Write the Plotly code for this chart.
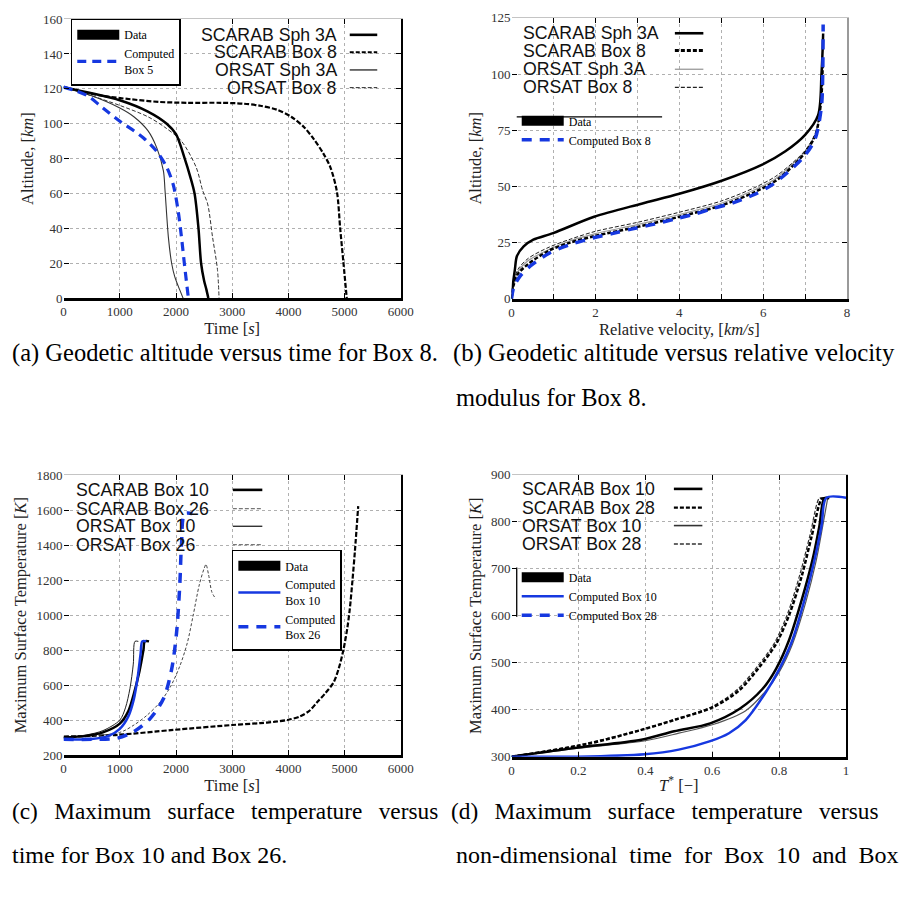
import plotly.graph_objects as go

# ---------------------------------------------------------------- data
# (a) altitude [km] versus time [s], Box 8 comparison
a_t_scarab_sph3a = [0, 500, 1000, 1500, 1835, 2000, 2155, 2250, 2330, 2400, 2446, 2500, 2540, 2575]
a_h_scarab_sph3a = [121, 117.5, 113.5, 107, 100, 94, 80, 70, 60, 40, 20, 10, 5, 0]
a_t_scarab_box8 = [0, 300, 700, 1200, 1700, 2200, 2800, 3200, 3500, 3800, 4050, 4280, 4455, 4620, 4747, 4863, 4921, 4980, 5038]
a_h_scarab_box8 = [121, 118.5, 116, 114, 112.5, 112, 112, 111.5, 110.3, 108, 104, 98, 91, 83, 75, 61, 40, 20, 0]
a_t_orsat_sph3a = [0, 500, 1000, 1250, 1500, 1660, 1776, 1805, 1864, 1922, 1980, 2038, 2126]
a_h_orsat_sph3a = [121, 116, 109, 104, 96, 86, 73, 61.6, 35, 20, 12, 7, 0]
a_t_orsat_box8 = [0, 500, 1000, 1500, 1800, 2097, 2359, 2475, 2563, 2650, 2737, 2766]
a_h_orsat_box8 = [121, 116, 110.5, 104, 98, 90, 75, 61.6, 54, 35, 16.5, 0]
a_t_computed = [0, 200, 437, 700, 1019, 1250, 1427, 1660, 1835, 1951, 2038, 2097, 2155, 2220]
a_h_computed = [121, 119, 115.8, 109, 101, 96, 91.7, 84, 75, 65, 50, 35, 18, 0]

# (b) altitude [km] versus relative velocity [km/s], Box 8 comparison
b_v_scarab_sph3a = [0, 0.03, 0.08, 0.13, 0.29, 0.52, 0.99, 1.97, 3.1, 4.0, 5.01, 5.99, 6.53, 7.0, 7.31, 7.39, 7.42, 7.43]
b_h_scarab_sph3a = [0, 6, 13, 19, 23.3, 26.3, 29.2, 36.5, 42.3, 46.7, 52.5, 59.8, 65.6, 72.9, 81.7, 100, 112, 118]
b_v_box8 = [0, 0.05, 0.15, 0.4, 0.9, 1.4, 2, 3, 4, 5, 5.8, 6.3, 6.7, 7.0, 7.25, 7.38, 7.42]
b_h_scarab_box8 = [0, 6, 11, 15.5, 21.5, 25, 28, 32, 36.5, 41.5, 47.5, 52.5, 59, 65, 73, 88, 105]
b_h_orsat_sph3a = [0, 6.5, 12, 17, 22, 25.8, 29, 33, 37.5, 42.5, 48.5, 53.5, 60, 65.5, 73.5, 88, 105]
b_h_orsat_box8 = [0, 7, 13, 18, 23, 26.5, 30, 34, 38.5, 43.5, 49.5, 54.5, 60.5, 66, 74, 88, 105]
b_v_computed = [0, 0.05, 0.2, 0.45, 0.91, 1.38, 1.93, 2.4, 2.86, 3.41, 3.88, 4.35, 4.82, 5.28, 5.79, 6.22, 6.69, 7.0, 7.24, 7.39, 7.42, 7.43]
b_h_computed = [0, 5, 10, 14.6, 20.4, 24, 27, 29, 31, 33.2, 35.4, 37.6, 40.3, 42.7, 46.4, 50.8, 58, 63.9, 71.2, 85.8, 100.4, 122]

# (c) maximum surface temperature [K] versus time [s], Box 10 and Box 26
c_t_scarab_box10 = [0, 400, 700, 1000, 1150, 1250, 1350, 1420, 1445, 1520]
c_T_scarab_box10 = [300, 310, 330, 380, 450, 550, 680, 800, 850, 850]
c_t_orsat_box10 = [0, 400, 700, 1000, 1100, 1180, 1240, 1270, 1330]
c_T_orsat_box10 = [300, 315, 340, 400, 470, 580, 720, 850, 850]
c_t_scarab_box26 = [0, 961, 1951, 3000, 3500, 3800, 4000, 4200, 4380, 4513, 4660, 4805, 4900, 4980, 5050, 5096, 5140, 5183, 5242]
c_T_scarab_box26 = [306, 316, 344, 372, 383, 392, 402, 420, 455, 503, 555, 616, 700, 803, 930, 1046, 1200, 1365, 1623]
c_t_orsat_box26 = [0, 1000, 1252, 1485, 1718, 1900, 2068, 2200, 2300, 2417, 2504, 2533, 2580, 2640, 2708]
c_T_orsat_box26 = [300, 330, 372, 428, 503, 590, 709, 840, 990, 1177, 1270, 1290, 1230, 1130, 1093]
c_t_computed10 = [0, 500, 800, 1000, 1150, 1250, 1320, 1370, 1400, 1470]
c_T_computed10 = [290, 292, 310, 350, 420, 520, 650, 780, 850, 850]
c_t_computed26 = [0, 500, 961, 1252, 1543, 1776, 1922, 2009, 2068, 2097, 2155, 2290]
c_T_computed26 = [290, 290, 297, 335, 410, 522, 690, 897, 1178, 1402, 1580, 1580]

# (d) maximum surface temperature [K] versus non-dimensional time T*
d_s_scarab_box10 = [0, 0.193, 0.388, 0.486, 0.594, 0.682, 0.75, 0.79, 0.83, 0.87, 0.9, 0.92, 0.935, 0.95]
d_T_scarab_box10 = [300, 319, 336, 354, 371, 402, 444, 486, 549, 640, 720, 790, 850, 850]
d_s_orsat_box10 = [0, 0.2, 0.4, 0.5, 0.6, 0.7, 0.76, 0.8, 0.84, 0.88, 0.91, 0.93, 0.945]
d_T_orsat_box10 = [300, 318, 334, 350, 368, 398, 440, 480, 540, 630, 715, 790, 850]
d_s_scarab_box28 = [0, 0.22, 0.388, 0.486, 0.604, 0.68, 0.74, 0.79, 0.83, 0.868, 0.897, 0.927, 0.935]
d_T_scarab_box28 = [300, 326, 357, 378, 406, 441, 490, 539, 602, 686, 769, 849, 850]
d_s_orsat_box28 = [0, 0.2, 0.38, 0.48, 0.6, 0.675, 0.735, 0.785, 0.825, 0.862, 0.892, 0.92, 0.93]
d_T_orsat_box28 = [300, 325, 356, 378, 407, 443, 492, 541, 604, 688, 771, 850, 850]
d_s_computed10 = [0, 0.2, 0.398, 0.5, 0.594, 0.65, 0.7, 0.76, 0.8, 0.84, 0.878, 0.907, 0.927, 0.941, 1.0]
d_T_computed10 = [300, 300, 305, 315, 333, 350, 378, 437, 486, 549, 640, 723, 793, 851, 851]

# legend texts
a_legend = ["SCARAB Sph 3A", "SCARAB Box 8", "ORSAT Sph 3A", "ORSAT Box 8"]
b_legend = ["SCARAB Sph 3A", "SCARAB Box 8", "ORSAT Sph 3A", "ORSAT Box 8"]
c_legend = ["SCARAB Box 10", "SCARAB Box 26", "ORSAT Box 10", "ORSAT Box 26"]
d_legend = ["SCARAB Box 10", "SCARAB Box 28", "ORSAT Box 10", "ORSAT Box 28"]

GAP = "\u2002\u2009"  # widened word gap for the justified caption lines
captions = [
    ("(a) Geodetic altitude versus time for Box 8.", 8, 352, 24.5),
    ("(b) Geodetic altitude versus relative velocity", 457, 352, 24.8),
    ("modulus for Box 8.", 460, 397, 24.5),
    (GAP.join(["(c)", "Maximum", "surface", "temperature", "versus"]), 8, 818, 23.3),
    ("time for Box 10 and Box 26.", 8, 862, 24),
    (GAP.join(["(d)", "Maximum", "surface", "temperature", "versus"]), 455, 818, 23.3),
    ("\u2002".join(["non-dimensional", "time", "for", "Box", "10", "and", "Box"]), 460, 862, 24),
]

# ---------------------------------------------------------------- styling
W, H = 902, 907
SERIF = "Liberation Serif"
SANS = "Liberation Sans"
BLUE = "#1638e0"


def fx(p):
    return p / W


def fy(p):
    return 1 - p / H


panels = {
    "a": dict(n="", ov=5, x=(61.7, 405.0), y=(12.3, 296.0), xr=[0, 6000], yr=[0, 160], xd=1000, yd=20,
              xt="Time [<i>s</i>]", yt="Altitude, [<i>km</i>]", right="black"),
    "b": dict(n="2", ov=6, x=(517.7, 859.3), y=(11.0, 296.7), xr=[0, 8], yr=[0, 125], xd=2, yd=25,
              xt="Relative velocity, [<i>km/s</i>]", yt="Altitude, [<i>km</i>]", right="#9a9a9a"),
    "c": dict(n="3", ov=7, x=(61.7, 405.0), y=(476.0, 760.7), xr=[0, 6000], yr=[200, 1800], xd=1000, yd=200,
              xt="Time [<i>s</i>]", yt="Maximum Surface Temperature [<i>K</i>]", right="black"),
    "d": dict(n="4", ov=8, x=(517.7, 858.3), y=(475.7, 762.3), xr=[0, 1], yr=[300, 900], xd=0.2, yd=100,
              xt="<i>T</i><sup>*</sup> [\u2212]", yt="Maximum Surface Temperature [<i>K</i>]", right="black"),
}

fig = go.Figure()


def add_line(p, x, y, color, width, dash="solid", name=None, legend=None):
    n = panels[p]["n"]
    fig.add_trace(go.Scatter(
        x=x, y=y, mode="lines", name=name,
        line=dict(color=color, width=width, dash=dash, shape="spline", smoothing=0.85),
        xaxis="x" + n, yaxis="y" + n,
        showlegend=legend is not None, legend=legend,
    ))


def add_key(p, name, color, width, dash, legend):
    # legend-only entry (no drawn points)
    n = panels[p]["n"]
    fig.add_trace(go.Scatter(
        x=[None], y=[None], mode="lines", name=name,
        line=dict(color=color, width=width, dash=dash),
        xaxis="x" + n, yaxis="y" + n, legend=legend, showlegend=True,
    ))


# (a)
add_line("a", a_t_scarab_box8, a_h_scarab_box8, "black", 2.2, "5px,2px")
add_line("a", a_t_orsat_box8, a_h_orsat_box8, "#333", 1, "4px,2px")
add_line("a", a_t_orsat_sph3a, a_h_orsat_sph3a, "#333", 1.1)
add_line("a", a_t_scarab_sph3a, a_h_scarab_sph3a, "black", 2.5)
add_key("a", "Data", "black", 12, "solid", "legend")
add_line("a", a_t_computed, a_h_computed, BLUE, 3.2, "9px,6px", "Computed<br>Box 5", "legend")

# (b)
add_line("b", b_v_box8, b_h_orsat_sph3a, "#9a9a9a", 1.2)
add_line("b", b_v_box8, b_h_orsat_box8, "#222", 1, "4px,2px")
add_line("b", b_v_box8, b_h_scarab_box8, "black", 2.5, "4px,2px")
add_line("b", b_v_scarab_sph3a, b_h_scarab_sph3a, "black", 2.5)
add_key("b", "Data", "black", 12, "solid", "legend2")
add_line("b", b_v_computed, b_h_computed, BLUE, 3.5, "10px,8px", "Computed Box 8", "legend2")

# (c)
add_line("c", c_t_scarab_box26, c_T_scarab_box26, "black", 2.2, "5px,2px")
add_line("c", c_t_orsat_box26, c_T_orsat_box26, "#444", 1, "3px,2px")
add_line("c", c_t_orsat_box10, c_T_orsat_box10, "#222", 1)
add_line("c", c_t_scarab_box10, c_T_scarab_box10, "black", 2.5)
add_key("c", "Data", "black", 12, "solid", "legend3")
add_line("c", c_t_computed10, c_T_computed10, BLUE, 2.5, "solid", "Computed<br>Box 10", "legend3")
add_line("c", c_t_computed26, c_T_computed26, BLUE, 3.5, "10px,8px", "Computed<br>Box 26", "legend3")

# (d)
add_line("d", d_s_orsat_box28, d_T_orsat_box28, "#333", 1.2, "4px,2px")
add_line("d", d_s_scarab_box28, d_T_scarab_box28, "black", 2.5, "4px,2px")
add_line("d", d_s_orsat_box10, d_T_orsat_box10, "#555", 1.2)
add_line("d", d_s_scarab_box10, d_T_scarab_box10, "black", 2.5)
add_key("d", "Data", "black", 12, "solid", "legend4")
add_line("d", d_s_computed10, d_T_computed10, BLUE, 2.5, "solid", "Computed Box 10", "legend4")
add_key("d", "Computed Box 28", BLUE, 3.5, "10px,8px", "legend4")

# ---------------------------------------------------------------- axes
tickfont = dict(family=SERIF, size=13, color="#333")
titlefont = dict(family=SERIF, size=16.5, color="#222")
layout = {}
for key, p in panels.items():
    n, ov = p["n"], str(p["ov"])
    xdom = [fx(p["x"][0]), fx(p["x"][1])]
    ydom = [fy(p["y"][1]), fy(p["y"][0])]
    xa = dict(domain=xdom, range=p["xr"], dtick=p["xd"], tick0=0, anchor="y" + n,
              showgrid=True, gridcolor="#b0b0b0", griddash="dot", gridwidth=1, zeroline=False,
              showline=True, linecolor="black", linewidth=2.5,
              ticks="inside", ticklen=5, tickwidth=1.3, tickcolor="black", tickfont=tickfont,
              title=dict(text=p["xt"], font=titlefont, standoff=3))
    if key == "b":
        xa["minor"] = dict(dtick=1, showgrid=True, gridcolor="#b0b0b0", griddash="dot",
                           ticks="inside", ticklen=5, tickcolor="black")
    ya = dict(domain=ydom, range=p["yr"], dtick=p["yd"], tick0=0, anchor="x" + n,
              showgrid=True, gridcolor="#b0b0b0", griddash="dot", gridwidth=1, zeroline=False,
              showline=False, ticks="inside", ticklen=5, tickwidth=1.3, tickcolor="black",
              tickfont=tickfont, title=dict(text=p["yt"], font=titlefont, standoff=5))
    # frame: top edge (light) and right edge, both carrying inward ticks
    xtop = dict(overlaying="x" + n, side="top", anchor="y" + n, range=p["xr"],
                dtick=(1 if key == "b" else p["xd"]), tick0=0,
                showgrid=False, zeroline=False, showline=True, linecolor="#c4c4c4", linewidth=1,
                ticks="inside", ticklen=5, tickwidth=1.3, tickcolor="black", showticklabels=False)
    yright = dict(overlaying="y" + n, side="right", anchor="x" + n, range=p["yr"], dtick=p["yd"], tick0=0,
                  showgrid=False, zeroline=False, showline=True, linecolor=p["right"], linewidth=2,
                  ticks="inside", ticklen=5, tickwidth=1.3, tickcolor="black", showticklabels=False)
    layout["xaxis" + n] = xa
    layout["yaxis" + n] = ya
    layout["xaxis" + ov] = xtop
    layout["yaxis" + ov] = yright
    # an empty trace so the frame axes get a subplot of their own
    fig.add_trace(go.Scatter(x=p["xr"], y=p["yr"], mode="none", xaxis="x" + ov, yaxis="y" + ov,
                             showlegend=False, hoverinfo="skip"))

# ---------------------------------------------------------------- boxed legends
legfont = dict(family=SERIF, size=12, color="black")
common = dict(xanchor="left", yanchor="top", font=legfont, tracegroupgap=0, itemwidth=42)
layout["legend"] = dict(x=fx(69), y=fy(12), bgcolor="white", bordercolor="black", borderwidth=1.5, **common)
layout["legend2"] = dict(x=fx(523), y=fy(101), bgcolor="rgba(0,0,0,0)", borderwidth=0, **common)
layout["legend3"] = dict(x=fx(233), y=fy(552), bgcolor="white", bordercolor="black", borderwidth=1.5, **common)
layout["legend4"] = dict(x=fx(523), y=fy(565), bgcolor="rgba(0,0,0,0)", borderwidth=0, **common)

shapes = []
annotations = []

# white backing behind the line-style keys (above the grid, below the curves)
for (x0, y0, x1, y1) in [(178, 13, 404, 95), (518, 12, 722, 98), (518, 98, 680, 152),
                         (62, 477, 272, 556), (518, 477, 722, 558), (518, 558, 690, 622)]:
    shapes.append(dict(type="rect", xref="paper", yref="paper", x0=fx(x0), x1=fx(x1), y0=fy(y1), y1=fy(y0),
                       fillcolor="white", line=dict(width=0), layer="between"))

# rule lines framing the legends of (b) and (d)
shapes.append(dict(type="line", xref="paper", yref="paper", x0=fx(523), x1=fx(671), y0=fy(111.7), y1=fy(111.7),
                   line=dict(color="black", width=1.3)))
shapes.append(dict(type="line", xref="paper", yref="paper", x0=fx(523), x1=fx(523), y0=fy(620), y1=fy(570),
                   line=dict(color="black", width=1.3)))

# line-style keys: text next to a short sample of the line
key_styles = {
    "a": [("black", 2.6, "solid"), ("black", 2.0, "4px,2px"), ("#222", 1.3, "solid"), ("#222", 1.0, "4px,2px")],
    "b": [("black", 2.6, "solid"), ("black", 3.0, "4px,2px"), ("#9a9a9a", 1.3, "solid"), ("#222", 1.2, "4px,2px")],
    "c": [("black", 2.6, "solid"), ("#777", 1.2, "4px,2px"), ("#222", 1.3, "solid"), ("#777", 1.2, "4px,2px")],
    "d": [("black", 2.6, "solid"), ("black", 2.2, "4px,2px"), ("#333", 1.6, "solid"), ("#333", 1.6, "4px,2px")],
}
key_layout = {
    "a": dict(labels=a_legend, tx=341, anchor="right", rows=[28.3, 46.0, 64.0, 82.0], kx=(353, 381)),
    "b": dict(labels=b_legend, tx=528, anchor="left", rows=[26.7, 44.3, 63.3, 81.7], kx=(684, 713)),
    "c": dict(labels=c_legend, tx=73, anchor="left", rows=[491.0, 510.0, 528.0, 546.7], kx=(234, 264)),
    "d": dict(labels=d_legend, tx=527, anchor="left", rows=[490.0, 509.0, 527.3, 546.0], kx=(683, 712)),
}
for key, kl in key_layout.items():
    for label, row, (color, width, dash) in zip(kl["labels"], kl["rows"], key_styles[key]):
        annotations.append(dict(text=label, xref="paper", yref="paper", x=fx(kl["tx"]), y=fy(row),
                                xanchor=kl["anchor"], yanchor="middle", showarrow=False,
                                font=dict(family=SANS, size=17.7, color="#111"), borderpad=0))
        shapes.append(dict(type="line", xref="paper", yref="paper", x0=fx(kl["kx"][0]), x1=fx(kl["kx"][1]),
                           y0=fy(row), y1=fy(row), line=dict(color=color, width=width, dash=dash)))

# sub-figure captions
for text, x, y, size in captions:
    annotations.append(dict(text=text, xref="paper", yref="paper", x=fx(x), y=fy(y), xanchor="left",
                            yanchor="middle", showarrow=False, borderpad=0,
                            font=dict(family=SERIF, size=size, color="black")))

fig.update_layout(
    width=W, height=H, autosize=False,
    margin=dict(l=0, r=0, t=0, b=0),
    paper_bgcolor="white", plot_bgcolor="white",
    shapes=shapes, annotations=annotations,
    **layout,
)

fig.write_html("out.html")
